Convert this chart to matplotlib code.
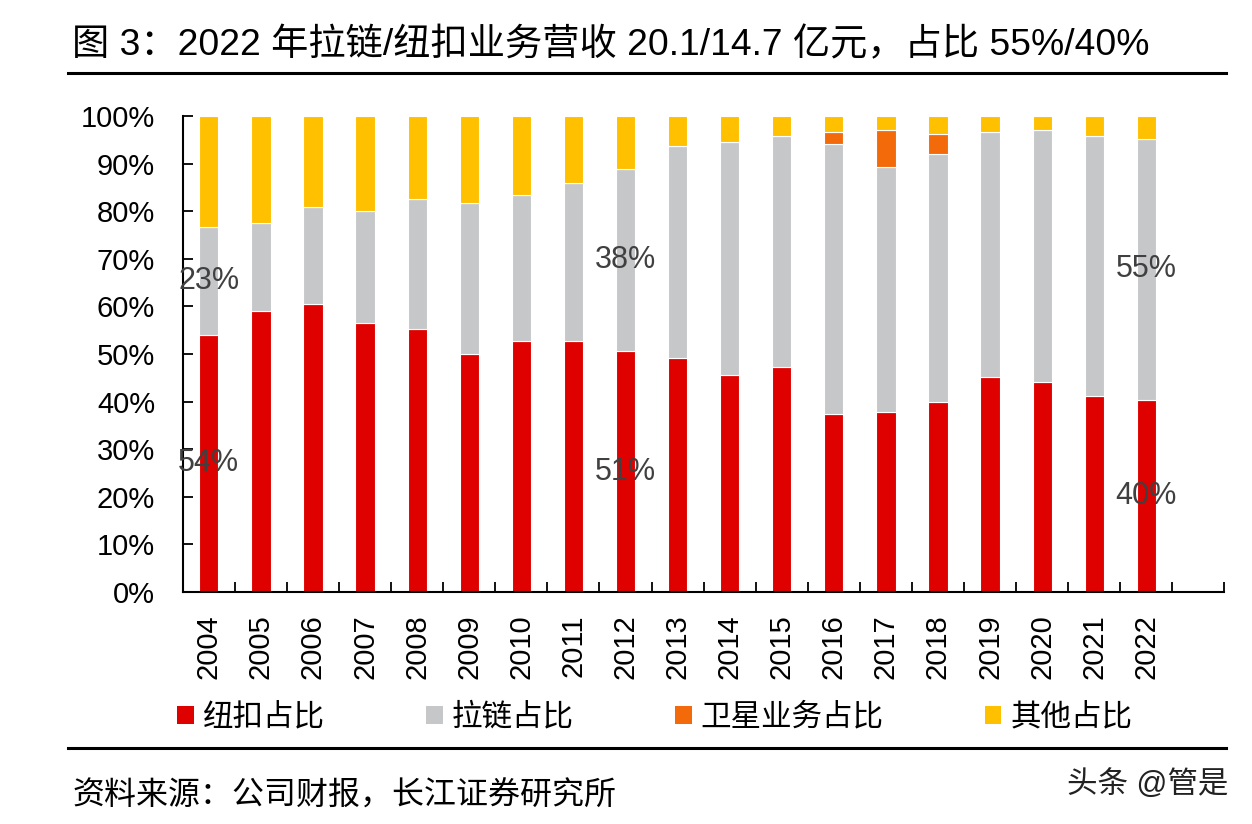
import matplotlib.pyplot as plt
import numpy as np
from matplotlib.patches import Patch
from matplotlib.lines import Line2D

plt.rcParams['font.family'] = ['Liberation Sans', 'Noto Sans CJK SC', 'DejaVu Sans']

# data (shares in %)
years = [str(y) for y in range(2004, 2023)]
niukou = [54.1, 59.0, 60.5, 56.5, 55.2, 50.1, 52.8, 52.8, 50.6, 49.2,
          45.6, 47.2, 37.4, 37.8, 39.9, 45.2, 44.1, 41.2, 40.3]
lalian = [22.7, 18.6, 20.5, 23.6, 27.3, 31.6, 30.6, 33.1, 38.3, 44.6,
          48.9, 48.6, 56.7, 51.6, 52.1, 51.4, 53.0, 54.6, 55.0]
weixing = [0, 0, 0, 0, 0, 0, 0, 0, 0, 0,
           0, 0, 2.5, 7.7, 4.2, 0, 0, 0, 0]
qita = [100 - a - b - c for a, b, c in zip(niukou, lalian, weixing)]

series_names = ['纽扣占比', '拉链占比', '卫星业务占比', '其他占比']
colors = ['#DF0000', '#C6C7C9', '#F26A0A', '#FFC000']

# labelled bars: index -> (button label, zipper label)
labels = {0: ('54%', '23%'), 8: ('51%', '38%'), 18: ('40%', '55%')}

fig = plt.figure(figsize=(12.52, 8.24), dpi=100)
ax = fig.add_axes([0.146, 0.2816, 0.832, 0.5774])

x = np.arange(len(years))
w = 0.37
bottom = np.zeros(len(years))
for vals, c in zip([niukou, lalian, weixing, qita], colors):
    ax.bar(x, vals, w, bottom=bottom, color=c, edgecolor='#FFFFFF', linewidth=0.8)
    bottom = bottom + np.array(vals)

for i, (lb_n, lb_l) in labels.items():
    ax.text(x[i], niukou[i] / 2, lb_n, ha='center', va='center', fontsize=22, color='#404040')
    ax.text(x[i], niukou[i] + lalian[i] / 2, lb_l, ha='center', va='center', fontsize=22, color='#404040')

ax.set_ylim(0, 100)
ax.set_xlim(-0.5, len(years) + 0.5)
ax.set_yticks(np.arange(0, 101, 10))
ax.set_yticklabels([f'{v}%' for v in range(0, 101, 10)], fontsize=21)
ax.tick_params(axis='y', direction='in', length=7, width=1.3, pad=20)

ax.set_xticks(np.arange(-0.5, len(years) + 1, 1))
ax.set_xticklabels([])
ax.tick_params(axis='x', which='major', direction='in', length=7, width=1.3)
ax.set_xticks(x, minor=True)
ax.set_xticklabels(years, minor=True, rotation=90, fontsize=21)
ax.tick_params(axis='x', which='minor', length=0, pad=16)

for s in ['top', 'right']:
    ax.spines[s].set_visible(False)
for s in ['left', 'bottom']:
    ax.spines[s].set_linewidth(1.5)
    ax.spines[s].set_color('black')

handles = [Patch(facecolor=c, edgecolor='none') for c in colors]
fig.legend(handles, series_names, loc='center', bbox_to_anchor=(0.523, 0.129), ncol=4,
           frameon=False, fontsize=22, handlelength=0.55, handleheight=0.55,
           handletextpad=0.3, columnspacing=3.3)

fig.text(0.0575, 0.945, '图 3：2022 年拉链/纽扣业务营收 20.1/14.7 亿元，占比 55%/40%',
         fontsize=26.8, ha='left', va='center')
fig.add_artist(Line2D([0.054, 0.979], [0.911, 0.911], color='black', linewidth=2.2))
fig.add_artist(Line2D([0.054, 0.979], [0.092, 0.092], color='black', linewidth=2.2))
fig.text(0.0575, 0.033, '资料来源：公司财报，长江证券研究所', fontsize=23, ha='left', va='center')
fig.text(0.981, 0.047, '头条 @管是', fontsize=22, ha='right', va='center', color='#222222')

fig.savefig('out.png', dpi=100)
